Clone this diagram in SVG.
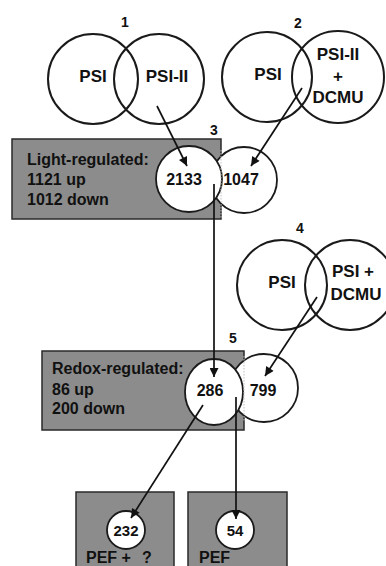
<svg xmlns="http://www.w3.org/2000/svg" width="386" height="566" viewBox="0 0 386 566">
<defs>
<style>
.v{fill:none;stroke:#1a1a1a;stroke-width:2}
.w{fill:#fff;stroke:#1a1a1a;stroke-width:1.8}
.box{fill:#8c8c8c;stroke:#2a2a2a;stroke-width:1.5}
.t{font-family:"Liberation Sans",Arial,sans-serif;font-weight:bold;fill:#111}
.c{text-anchor:middle}
.l{stroke:#111;stroke-width:1.7;fill:none;marker-end:url(#ah)}
.dot{stroke:#bdbdbd;stroke-width:1;stroke-dasharray:1.5 1.5}
</style>
<marker id="ah" viewBox="0 0 10 10" refX="10" refY="5" markerWidth="11" markerHeight="9" markerUnits="userSpaceOnUse" orient="auto">
<path d="M0,0 L10,5 L0,10 z" fill="#111"/>
</marker>
</defs>
<g id="venn1">
<circle class="v" cx="93" cy="79" r="45"/>
<circle class="v" cx="159" cy="79" r="45"/>
<text class="t c" x="93" y="82" font-size="17">PSI</text>
<text class="t c" x="167" y="82" font-size="17">PSI-II</text>
<text class="t c" x="125" y="27" font-size="14">1</text>
</g>
<g id="venn2">
<circle class="v" cx="267" cy="77" r="45"/>
<circle class="v" cx="338" cy="77" r="46"/>
<text class="t c" x="268" y="80" font-size="17">PSI</text>
<text class="t c" x="338" y="60" font-size="17">PSI-II</text>
<text class="t c" x="338" y="82" font-size="17">+</text>
<text class="t c" x="338" y="103" font-size="17">DCMU</text>
<text class="t c" x="298" y="28" font-size="14">2</text>
</g>
<g id="box3">
<rect class="box" x="12" y="139" width="209" height="80"/>
<circle class="w" cx="244" cy="180" r="33"/>
<circle class="w" cx="189" cy="179" r="33"/>
<line class="dot" x1="221" y1="150" x2="221" y2="218"/>
<text class="t" x="27" y="165" font-size="16">Light-regulated:</text>
<text class="t" x="27" y="185" font-size="16">1121 up</text>
<text class="t" x="27" y="205" font-size="16">1012 down</text>
<text class="t c" x="184" y="185" font-size="16">2133</text>
<text class="t c" x="241" y="185" font-size="16">1047</text>
<text class="t c" x="214" y="135" font-size="14">3</text>
</g>
<g id="venn4">
<circle class="v" cx="282" cy="285" r="45"/>
<circle class="v" cx="350" cy="285" r="45"/>
<text class="t c" x="282" y="288" font-size="17">PSI</text>
<text class="t c" x="353" y="277" font-size="17">PSI +</text>
<text class="t c" x="356" y="300" font-size="17">DCMU</text>
<text class="t c" x="300" y="233" font-size="14">4</text>
</g>
<g id="box5">
<rect class="box" x="42" y="351" width="202" height="79"/>
<circle class="w" cx="264" cy="388" r="34"/>
<ellipse class="w" cx="214" cy="392" rx="29" ry="33"/>
<line class="dot" x1="244" y1="356" x2="244" y2="421"/>
<text class="t" x="52" y="374" font-size="16">Redox-regulated:</text>
<text class="t" x="52" y="395" font-size="16">86 up</text>
<text class="t" x="52" y="414" font-size="16">200 down</text>
<text class="t c" x="210" y="396" font-size="16">286</text>
<text class="t c" x="263" y="396" font-size="16">799</text>
<text class="t c" x="233" y="343" font-size="14">5</text>
</g>
<g id="box232">
<rect class="box" x="76" y="492" width="98" height="80"/>
<circle class="w" cx="126" cy="530" r="19"/>
<text class="t c" x="126" y="536" font-size="15">232</text>
<text class="t" x="86" y="563" font-size="16">PEF +<tspan x="142">?</tspan></text>
</g>
<g id="box54">
<rect class="box" x="188" y="492" width="99" height="80"/>
<circle class="w" cx="235" cy="530" r="19"/>
<text class="t c" x="235" y="536" font-size="15">54</text>
<text class="t" x="199" y="563" font-size="16">PEF</text>
</g>
<g id="connectors">
<line class="l" x1="157" y1="106" x2="187" y2="166"/>
<line class="l" x1="302" y1="88" x2="251" y2="166"/>
<line class="l" x1="214" y1="184" x2="214" y2="377"/>
<line class="l" x1="317" y1="297" x2="265" y2="376"/>
<line class="l" x1="203" y1="405" x2="131" y2="518"/>
<line class="l" x1="236" y1="397" x2="236" y2="519"/>
</g>
</svg>
